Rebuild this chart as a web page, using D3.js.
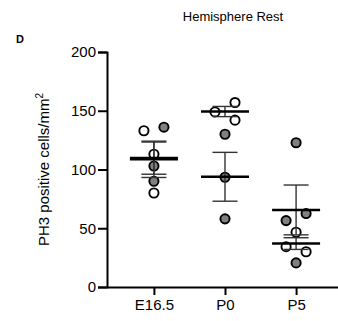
<!DOCTYPE html>
<html>
<head>
<meta charset="utf-8">
<script src="https://cdnjs.cloudflare.com/ajax/libs/d3/7.8.5/d3.min.js"></script>
<style>
  body { margin: 0; background: #fff; }
  svg { display: block; font-family: "Liberation Sans", Arial, sans-serif; }
</style>
</head>
<body>
<div id="chart"></div>
<script>
// values
const categories = ['E16.5', 'P0', 'P5'];
const openValues = [[133, 113, 80], [149, 157, 142], [46.6, 34.3, 30]];
const filledValues = [[136, 103, 90], [130, 93.4, 58], [122.8, 56.5, 62.5, 20.5]];
// side-by-side slot of each point (-1 left, 0 centre, 1 right)
const openSlot = [[-1, 0, 0], [-1, 1, 1], [0, -1, 1]];
const filledSlot = [[1, 0, 0], [0, 0, 0], [0, -1, 1, 0]];
const yTicks = [0, 50, 100, 150, 200];

const width = 338, height = 321;
const margin = {top: 52, right: 0, bottom: 34, left: 107};
const slotStep = 10;

const svg = d3.select('#chart').append('svg')
  .attr('width', width)
  .attr('height', height);

const x = d3.scalePoint()
  .domain(categories)
  .range([margin.left, width + 5])
  .padding(0.66);

const y = d3.scaleLinear()
  .domain([0, 200])
  .range([height - margin.bottom, margin.top]);

// build point list from arrays
const points = [];
categories.forEach((c, i) => {
  openValues[i].forEach((v, j) => points.push({cat: c, v: v, slot: openSlot[i][j], open: true}));
  filledValues[i].forEach((v, j) => points.push({cat: c, v: v, slot: filledSlot[i][j], open: false}));
});

// mean +- SEM per series
const stats = [];
categories.forEach((c, i) => {
  [openValues[i], filledValues[i]].forEach(vals => {
    const m = d3.mean(vals);
    const sem = d3.deviation(vals) / Math.sqrt(vals.length);
    stats.push({cat: c, mean: m, lo: m - sem, hi: m + sem});
  });
});

// axes
svg.append('g')
  .attr('transform', 'translate(' + margin.left + ',0)')
  .call(d3.axisLeft(y).tickValues(yTicks).tickSize(9).tickPadding(2))
  .call(g => g.select('.domain').attr('stroke-width', 2))
  .call(g => g.selectAll('.tick line').attr('stroke-width', 2))
  .call(g => g.selectAll('text').style('font-size', '15px').attr('fill', '#000'));

svg.append('g')
  .attr('transform', 'translate(0,' + (height - margin.bottom) + ')')
  .call(d3.axisBottom(x).tickSize(8).tickSizeOuter(0).tickPadding(4))
  .call(g => g.select('.domain').attr('stroke-width', 2))
  .call(g => g.selectAll('.tick line').attr('stroke-width', 2))
  .call(g => g.selectAll('text').style('font-size', '15px').attr('fill', '#000'));

// data points
svg.append('g').selectAll('circle')
  .data(points)
  .enter().append('circle')
    .attr('cx', d => x(d.cat) + d.slot * slotStep)
    .attr('cy', d => y(d.v))
    .attr('r', 4.6)
    .attr('fill', d => d.open ? '#fff' : '#808080')
    .attr('stroke', '#000')
    .attr('stroke-width', 1.9);

// error bars
const eb = svg.append('g').attr('stroke', '#333').attr('stroke-width', 1.4);
stats.forEach(s => {
  const cx = x(s.cat);
  eb.append('line').attr('x1', cx).attr('x2', cx).attr('y1', y(s.lo)).attr('y2', y(s.hi));
  eb.append('line').attr('x1', cx - 12.5).attr('x2', cx + 12.5).attr('y1', y(s.lo)).attr('y2', y(s.lo));
  eb.append('line').attr('x1', cx - 12.5).attr('x2', cx + 12.5).attr('y1', y(s.hi)).attr('y2', y(s.hi));
});

// means
svg.append('g').selectAll('line')
  .data(stats)
  .enter().append('line')
    .attr('x1', d => x(d.cat) - 24)
    .attr('x2', d => x(d.cat) + 24)
    .attr('y1', d => y(d.mean))
    .attr('y2', d => y(d.mean))
    .attr('stroke', '#000')
    .attr('stroke-width', 2.6);

// y axis label
const yl = svg.append('text')
  .attr('transform', 'translate(49,' + (y(100)) + ') rotate(-90)')
  .attr('text-anchor', 'middle')
  .style('font-size', '15px');
yl.append('tspan').text('PH3 positive cells/mm');
yl.append('tspan').attr('dy', -6).style('font-size', '10px').text('2');

// title and panel letter
svg.append('text')
  .attr('x', 233).attr('y', 21)
  .attr('text-anchor', 'middle')
  .style('font-size', '13px')
  .text('Hemisphere Rest');

svg.append('text')
  .attr('x', 16).attr('y', 43)
  .style('font-size', '11px')
  .style('font-weight', 'bold')
  .text('D');
</script>
</body>
</html>
